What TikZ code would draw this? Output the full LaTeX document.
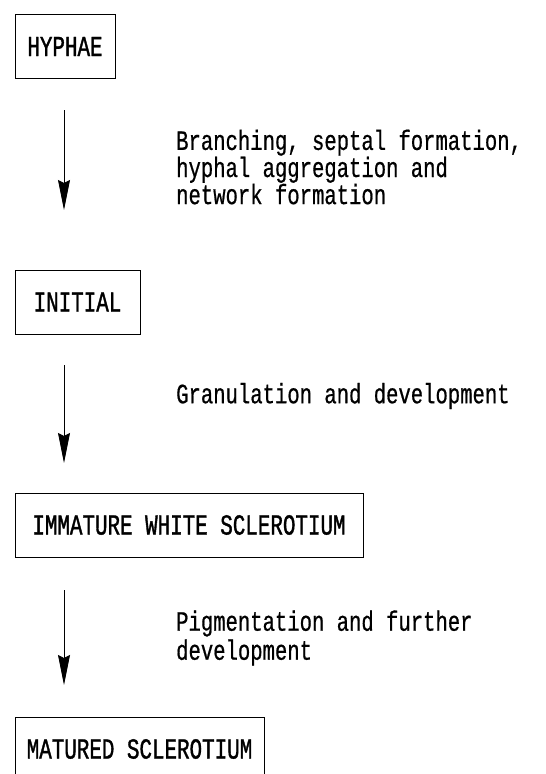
\documentclass[tikz,border=0pt]{standalone}
\usepackage{fontspec}
\usetikzlibrary{arrows.meta}
\newfontfamily\labelfont[FakeStretch=0.735,FakeBold=0.6]{Liberation Mono}
\newfontfamily\boxfont[FakeStretch=0.72,FakeBold=1.2]{Liberation Mono}
\begin{document}
\begin{tikzpicture}[x=1pt,y=-1pt,
  stagebox/.style={draw=black, line width=0.9pt, minimum height=64pt, inner sep=0pt,
    font=\boxfont\fontsize{29}{29}\selectfont},
  steplabel/.style={anchor=west, align=left, inner sep=0pt,
    font=\labelfont\fontsize{28}{24}\selectfont},
  flow/.style={draw=black, line width=0.9pt, -{Stealth[length=30pt,width=12pt,inset=3pt]}}]
\useasboundingbox (0,0) rectangle (546,774);
\clip (0,0) rectangle (546,774);
\node[stagebox, minimum width=100pt] (hyphae) at (65,46.5) {HYPHAE};
\node[stagebox, minimum width=125pt] (initial) at (77.5,302) {INITIAL};
\node[stagebox, minimum width=348pt] (immature) at (189,525) {IMMATURE WHITE SCLEROTIUM};
\node[stagebox, minimum width=249pt] (matured) at (139.5,749) {MATURED SCLEROTIUM};
\coordinate (a1s) at (64,110);
\coordinate (a1e) at (64,210);
\coordinate (a2s) at (64,365);
\coordinate (a2e) at (64,463);
\coordinate (a3s) at (64,590);
\coordinate (a3e) at (64,685);
\draw[flow] (a1s) -- (a1e);
\draw[flow] (a2s) -- (a2e);
\draw[flow] (a3s) -- (a3e);
\node[steplabel] (l1) at (176,167) {Branching, septal formation,\\hyphal aggregation and\\network formation};
\node[steplabel] (l2) at (176,396) {Granulation and development};
\node[steplabel, font=\labelfont\fontsize{28}{29}\selectfont] (l3) at (176,638) {Pigmentation and further\\development};
\end{tikzpicture}
\end{document}
